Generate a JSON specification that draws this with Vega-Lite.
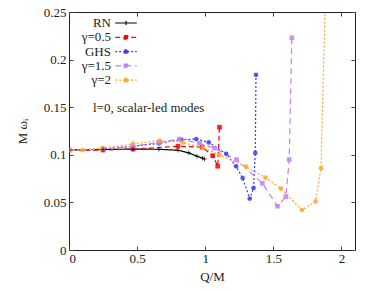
{
  "$schema": "https://vega.github.io/schema/vega-lite/v6.json",
  "width": 286,
  "height": 238,
  "autosize": "none",
  "padding": {"left": 69, "top": 12, "right": 23, "bottom": 41},
  "background": "white",
  "config": {
    "view": {"stroke": "#222222", "strokeWidth": 1},
    "font": "Liberation Serif",
    "axis": {
      "grid": false,
      "domain": false,
      "labelFont": "Liberation Serif",
      "labelFontSize": 13,
      "labelColor": "#222222",
      "titleFont": "Liberation Serif",
      "titleFontSize": 13,
      "titleFontWeight": "normal",
      "titleColor": "#222222",
      "tickColor": "#444444",
      "tickSize": -4,
      "tickWidth": 1
    },
    "legend": {
      "orient": "none", "legendX": 50, "legendY": 4, "title": null, "padding": 0,
      "labelAlign": "right", "labelOffset": -22, "labelFont": "Liberation Serif", "labelFontSize": 13, "labelColor": "#222222",
      "symbolSize": 144, "symbolStrokeWidth": 1.2, "rowPadding": 0.3, "labelLimit": 200
    }
  },
  "datasets": {
    "pts": [
      {"s": "RN", "x": 0, "y": 0.105},
      {"s": "RN", "x": 0.25, "y": 0.1055},
      {"s": "RN", "x": 0.47, "y": 0.106},
      {"s": "RN", "x": 0.66, "y": 0.1058},
      {"s": "RN", "x": 0.8, "y": 0.1048},
      {"s": "RN", "x": 0.88, "y": 0.102},
      {"s": "RN", "x": 0.94, "y": 0.0985},
      {"s": "RN", "x": 0.98, "y": 0.0965},
      {"s": "RN", "x": 0.995, "y": 0.0955},
      {"s": "γ=0.5", "x": 0, "y": 0.105},
      {"s": "γ=0.5", "x": 0.25, "y": 0.105},
      {"s": "γ=0.5", "x": 0.47, "y": 0.106},
      {"s": "γ=0.5", "x": 0.8, "y": 0.109},
      {"s": "γ=0.5", "x": 0.978, "y": 0.108},
      {"s": "γ=0.5", "x": 1.056, "y": 0.099},
      {"s": "γ=0.5", "x": 1.092, "y": 0.088},
      {"s": "γ=0.5", "x": 1.105, "y": 0.129},
      {"s": "GHS", "x": 0, "y": 0.105},
      {"s": "GHS", "x": 0.25, "y": 0.106},
      {"s": "GHS", "x": 0.47, "y": 0.109},
      {"s": "GHS", "x": 0.66, "y": 0.112},
      {"s": "GHS", "x": 0.824, "y": 0.116},
      {"s": "GHS", "x": 0.934, "y": 0.1165},
      {"s": "GHS", "x": 1.026, "y": 0.113},
      {"s": "GHS", "x": 1.154, "y": 0.101},
      {"s": "GHS", "x": 1.227, "y": 0.088},
      {"s": "GHS", "x": 1.275, "y": 0.0755},
      {"s": "GHS", "x": 1.327, "y": 0.054},
      {"s": "GHS", "x": 1.355, "y": 0.065},
      {"s": "GHS", "x": 1.368, "y": 0.102},
      {"s": "GHS", "x": 1.373, "y": 0.184},
      {"s": "γ=1.5", "x": 0, "y": 0.105},
      {"s": "γ=1.5", "x": 0.25, "y": 0.106},
      {"s": "γ=1.5", "x": 0.47, "y": 0.109},
      {"s": "γ=1.5", "x": 0.66, "y": 0.113},
      {"s": "γ=1.5", "x": 0.81, "y": 0.1165},
      {"s": "γ=1.5", "x": 0.958, "y": 0.112},
      {"s": "γ=1.5", "x": 1.068, "y": 0.107},
      {"s": "γ=1.5", "x": 1.23, "y": 0.095},
      {"s": "γ=1.5", "x": 1.42, "y": 0.07},
      {"s": "γ=1.5", "x": 1.531, "y": 0.046},
      {"s": "γ=1.5", "x": 1.592, "y": 0.056},
      {"s": "γ=1.5", "x": 1.617, "y": 0.095},
      {"s": "γ=1.5", "x": 1.636, "y": 0.223},
      {"s": "γ=2", "x": 0, "y": 0.105},
      {"s": "γ=2", "x": 0.1, "y": 0.105},
      {"s": "γ=2", "x": 0.246, "y": 0.107},
      {"s": "γ=2", "x": 0.47, "y": 0.1115},
      {"s": "γ=2", "x": 0.666, "y": 0.115},
      {"s": "γ=2", "x": 0.836, "y": 0.113},
      {"s": "γ=2", "x": 0.982, "y": 0.1075},
      {"s": "γ=2", "x": 1.105, "y": 0.1},
      {"s": "γ=2", "x": 1.3, "y": 0.0875},
      {"s": "γ=2", "x": 1.443, "y": 0.076},
      {"s": "γ=2", "x": 1.556, "y": 0.0645},
      {"s": "γ=2", "x": 1.71, "y": 0.042},
      {"s": "γ=2", "x": 1.81, "y": 0.051},
      {"s": "γ=2", "x": 1.85, "y": 0.086},
      {"s": "γ=2", "x": 1.885, "y": 0.28}
    ]
  },
  "resolve": {"axis": {"x": "independent", "y": "independent"}},
  "layer": [
    {
      "data": {"name": "pts"},
      "mark": {"type": "line", "clip": true, "strokeWidth": 1.2},
      "encoding": {
        "x": {"field": "x", "type": "quantitative", "scale": {"domain": [0, 2.1], "nice": false, "zero": false},
              "axis": {"title": "Q/M", "values": [0, 0.5, 1, 1.5, 2], "format": "~g", "labelPadding": 6, "titlePadding": 5}},
        "y": {"field": "y", "type": "quantitative", "scale": {"domain": [0, 0.25], "nice": false, "zero": false},
              "axis": {"title": "M ωᵢ", "values": [0, 0.05, 0.1, 0.15, 0.2, 0.25], "format": "~g", "labelPadding": 7, "titlePadding": 14}},
        "color": {"field": "s", "type": "nominal",
                  "scale": {"domain": ["RN", "γ=0.5", "GHS", "γ=1.5", "γ=2"], "range": ["#000000", "#ff0000", "#3a3aff", "#c080ff", "#ffa62b"]},
                  "legend": {
                    "encode": {"symbols": {"update": {
                      "fill": {"scale": "color", "field": "value"},
                      "shape": {"signal": "datum.value == 'RN' ? 'M-1.8,0H1.8M0,-0.35V0.35' : (datum.value == 'GHS' || datum.value == 'γ=2') ? 'M-1.8,0H1.8M0.35,0A0.35,0.35 0 1,1 -0.35,0A0.35,0.35 0 1,1 0.35,0Z' : 'M-1.8,0H1.8M-0.3,-0.3H0.3V0.3H-0.3Z'"}
                    }}}}},
        "strokeDash": {"field": "s", "type": "nominal",
                       "scale": {"domain": ["RN", "γ=0.5", "GHS", "γ=1.5", "γ=2"], "range": [[1, 0], [5, 3], [2, 2], [6, 4], [2, 2]]}}
      }
    },
    {
      "data": {"name": "pts"},
      "transform": [{"filter": "datum.s != 'RN'"}],
      "mark": {"type": "point", "filled": true, "clip": true, "size": 22, "opacity": 0.85},
      "encoding": {
        "x": {"field": "x", "type": "quantitative", "axis": null},
        "y": {"field": "y", "type": "quantitative", "axis": null},
        "color": {"field": "s", "type": "nominal", "legend": null},
        "shape": {"field": "s", "type": "nominal", "scale": {"domain": ["γ=0.5", "GHS", "γ=1.5", "γ=2"], "range": ["square", "circle", "square", "circle"]}, "legend": null}
      }
    },
    {
      "data": {"name": "pts"},
      "transform": [{"filter": "datum.s == 'RN'"}],
      "mark": {"type": "point", "filled": false, "clip": true, "size": 20, "shape": "M-1,0H1M0,-1V1", "strokeWidth": 1, "color": "#000000"},
      "encoding": {
        "x": {"field": "x", "type": "quantitative", "axis": null},
        "y": {"field": "y", "type": "quantitative", "axis": null}
      }
    },
    {
      "data": {"values": [{"x": 0.176, "y": 0.149, "t": "l=0, scalar-led modes"}]},
      "mark": {"type": "text", "align": "left", "baseline": "middle", "font": "Liberation Serif", "fontSize": 13, "color": "#222222"},
      "encoding": {
        "x": {"field": "x", "type": "quantitative", "axis": {"orient": "top", "labels": false, "title": null, "values": [0, 0.5, 1, 1.5, 2]}},
        "y": {"field": "y", "type": "quantitative", "axis": {"orient": "right", "labels": false, "title": null, "values": [0, 0.05, 0.1, 0.15, 0.2, 0.25]}},
        "text": {"field": "t"}
      }
    }
  ]
}
